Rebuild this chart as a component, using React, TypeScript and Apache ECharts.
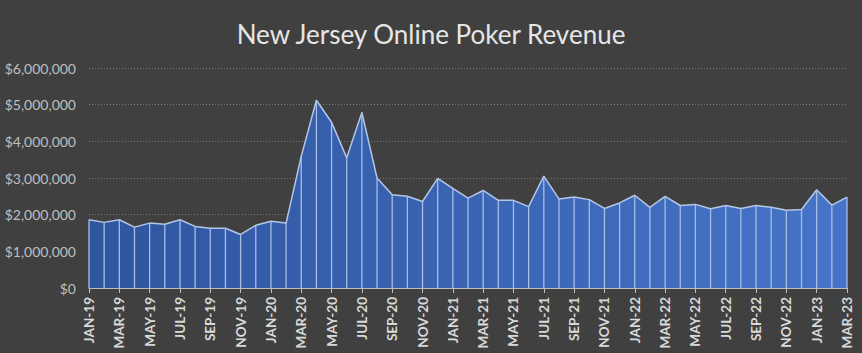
import React, { useEffect, useRef } from "react";
import * as echarts from "echarts";

const months = ["JAN","FEB","MAR","APR","MAY","JUN","JUL","AUG","SEP","OCT","NOV","DEC"];
const categories: string[] = [];
for (let y = 19; y <= 23; y++) {
  for (let m = 0; m < 12; m++) {
    if (y === 23 && m > 2) break;
    categories.push(`${months[m]}-${y}`);
  }
}

const revenue = [
  1860000, 1790000, 1860000, 1660000, 1770000, 1740000, 1860000, 1680000, 1630000, 1630000, 1460000, 1710000,
  1820000, 1770000, 3590000, 5120000, 4520000, 3550000, 4790000, 3000000, 2540000, 2500000, 2360000, 2990000,
  2720000, 2450000, 2660000, 2390000, 2390000, 2220000, 3050000, 2430000, 2480000, 2410000, 2170000, 2320000,
  2530000, 2200000, 2500000, 2250000, 2280000, 2160000, 2250000, 2170000, 2250000, 2200000, 2120000, 2140000,
  2680000, 2260000, 2480000,
];

const titleText = "New Jersey Online Poker Revenue";

export default function App() {
  const ref = useRef<HTMLDivElement>(null);
  useEffect(() => {
    if (!ref.current) return;
    document.body.style.margin = "0";
    const chart = echarts.init(ref.current, null, { renderer: "svg" });
    chart.setOption({
      animation: false,
      backgroundColor: "#404040",
      textStyle: { fontFamily: "Lato" },
      title: {
        text: titleText,
        left: "center",
        top: 16,
        textStyle: { color: "#e6e6e6", fontSize: 26, fontWeight: "normal", fontFamily: "Lato" },
      },
      grid: { left: 89, right: 15, top: 68, bottom: 65 },
      xAxis: {
        type: "category",
        data: categories,
        boundaryGap: false,
        axisLine: { lineStyle: { color: "#bfbfbf", width: 1 } },
        axisTick: { show: true, interval: 1, length: 5, lineStyle: { color: "#bfbfbf" } },
        axisLabel: {
          interval: 1,
          rotate: 90,
          color: "#d9d9d9",
          fontWeight: "bold",
          fontSize: 13.5,
          fontFamily: "Lato",
          margin: 9,
        },
        splitLine: { show: false },
      },
      yAxis: {
        type: "value",
        min: 0,
        max: 6000000,
        interval: 1000000,
        axisLine: { show: false },
        axisTick: { show: false },
        axisLabel: {
          color: "#bfbfbf",
          fontSize: 14,
          fontFamily: "Lato",
          margin: 13,
          formatter: (v: number) => "$" + v.toLocaleString("en-US"),
        },
        splitLine: { lineStyle: { color: "#7a7a7a", type: [1, 2], width: 1 } },
      },
      series: [
        {
          type: "line",
          data: revenue,
          symbol: "none",
          z: 2,
          lineStyle: { color: "#b4c7e7", width: 1.5 },
          areaStyle: {
            opacity: 1,
            color: new echarts.graphic.LinearGradient(0, 0, 1, 0, [
              { offset: 0, color: "#2f559f" },
              { offset: 1, color: "#4674c8" },
            ]),
          },
        },
        {
          type: "bar",
          data: revenue,
          barWidth: 1.3,
          z: 3,
          itemStyle: { color: "#a6bde4" },
        },
      ],
    });
    return () => chart.dispose();
  }, []);
  return <div ref={ref} style={{ width: 862, height: 353 }} />;
}
